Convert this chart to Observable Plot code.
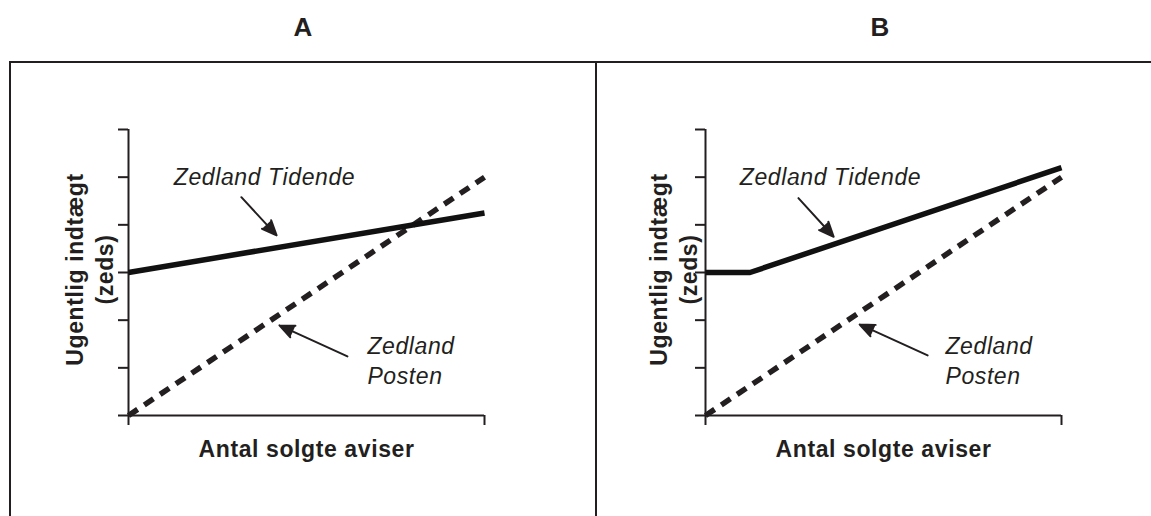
<!DOCTYPE html>
<html><head><meta charset="utf-8">
<script src="https://cdn.jsdelivr.net/npm/d3@7"></script>
<script src="https://cdn.jsdelivr.net/npm/@observablehq/plot@0.6"></script>
<style>
body{margin:0;background:#fff;font-family:"Liberation Sans",Arial,Helvetica,sans-serif;}
#wrap{position:relative;width:1151px;height:516px;overflow:hidden;background:#fff;}
.title{position:absolute;top:10px;width:100px;margin-left:-50px;text-align:center;font-weight:bold;font-size:26px;color:#231f20;line-height:34px;}
.bline{position:absolute;background:#231f20;z-index:2;}
.panel{position:absolute;top:62px;z-index:1;}
.panel svg{background:transparent;}
.panel svg text{letter-spacing:0.6px;}
</style></head><body>
<div id="wrap">
  <div class="title" id="tA" style="left:303px"></div>
  <div class="title" id="tB" style="left:880px"></div>
  <div class="bline" style="left:9px;top:61px;width:1142px;height:2px"></div>
  <div class="bline" style="left:9px;top:61px;width:2px;height:455px"></div>
  <div class="bline" style="left:595px;top:61px;width:2px;height:455px"></div>
  <div class="panel" id="pA" style="left:0px"></div>
  <div class="panel" id="pB" style="left:596px"></div>
</div>
<script>
// ---- data ----
const panelTitles = ["A", "B"];
const xDomain = [0, 10];
const yDomain = [0, 6];
const yTicks = [0, 1, 2, 3, 4, 5, 6];
const xTicks = [0, 10];
const xLabel = "Antal solgte aviser";
const yLabel = "Ugentlig indtægt\n(zeds)";
const nameTidende = "Zedland Tidende";
const namePosten = "Zedland\nPosten";

// Panel A series
const tidendeA_x = [0, 10];
const tidendeA_y = [3, 4.25];
const postenA_x = [0, 10];
const postenA_y = [0, 5];
// Panel B series
const tidendeB_x = [0, 1.25, 10];
const tidendeB_y = [3, 3, 5.2];
const postenB_x = [0, 10];
const postenB_y = [0, 5];

// annotation anchors (data units)
const labelTidendeA = [3.82, 5.0];
const labelPostenA = [6.71, 1.17];
const labelTidendeB = [3.51, 5.0];
const labelPostenB = [6.74, 1.17];
const arrowTidendeA = [3.17, 4.58, 4.16, 3.78];
const arrowPostenA = [6.15, 1.24, 4.24, 1.89];
const arrowTidendeB = [2.61, 4.56, 3.60, 3.75];
const arrowPostenB = [6.24, 1.26, 4.33, 1.91];

// ---- build ----
const ink = "#231f20";
const font = "Liberation Sans, Arial, Helvetica, sans-serif";
const toPts = (xs, ys) => xs.map((x, i) => ({x, y: ys[i]}));
const toArrow = a => ({x1: a[0], y1: a[1], x2: a[2], y2: a[3]});

function panel(cfg) {
  return Plot.plot({
    width: cfg.width, height: 454,
    marginLeft: cfg.ml, marginRight: cfg.mr, marginTop: 67, marginBottom: 101,
    x: {domain: xDomain},
    y: {domain: yDomain},
    style: {background: "transparent", color: ink, fontFamily: font},
    marks: [
      Plot.axisY({ticks: yTicks, tickSize: 10, tickFormat: () => "", label: null, strokeWidth: 2, stroke: ink}),
      Plot.axisX({ticks: xTicks, tickSize: 10, tickFormat: () => "", label: null, strokeWidth: 2, stroke: ink}),
      Plot.ruleX([0], {stroke: ink, strokeWidth: 2}),
      Plot.ruleY([0], {stroke: ink, strokeWidth: 2}),
      Plot.line(cfg.posten, {x: "x", y: "y", stroke: ink, strokeWidth: 5.5, strokeDasharray: "11,8", strokeLinecap: "butt"}),
      Plot.line(cfg.tidende, {x: "x", y: "y", stroke: "#111", strokeWidth: 5.5, strokeLinecap: "butt", strokeLinejoin: "miter"}),
      Plot.arrow(cfg.arrows, {x1: "x1", y1: "y1", x2: "x2", y2: "y2", stroke: ink, fill: ink, strokeWidth: 2, headLength: 12, headAngle: 46}),
      Plot.text([cfg.lt], {x: d => d[0], y: d => d[1], text: () => nameTidende, fontStyle: "italic", fontSize: 23, fill: ink, fontFamily: font}),
      Plot.text([cfg.lp], {x: d => d[0], y: d => d[1], text: () => namePosten, fontStyle: "italic", fontSize: 23, fill: ink, textAnchor: "start", lineHeight: 1.27, fontFamily: font}),
      Plot.text([yLabel], {text: d => d, frameAnchor: "left", textAnchor: "middle", dx: cfg.ylabDx, dy: -3, rotate: -90, fontWeight: "bold", fontSize: 23, lineHeight: 1.3, fill: ink, fontFamily: font}),
      Plot.text([xLabel], {text: d => d, frameAnchor: "bottom", textAnchor: "middle", dy: 41, fontWeight: "bold", fontSize: 23, fill: ink, fontFamily: font})
    ]
  });
}

document.getElementById("tA").textContent = panelTitles[0];
document.getElementById("tB").textContent = panelTitles[1];

document.getElementById("pA").append(panel({
  width: 596, ml: 128, mr: 112, ylabDx: -40,
  tidende: toPts(tidendeA_x, tidendeA_y),
  posten: toPts(postenA_x, postenA_y),
  arrows: [toArrow(arrowTidendeA), toArrow(arrowPostenA)],
  lt: labelTidendeA, lp: labelPostenA
}));
document.getElementById("pB").append(panel({
  width: 555, ml: 109, mr: 90, ylabDx: -33,
  tidende: toPts(tidendeB_x, tidendeB_y),
  posten: toPts(postenB_x, postenB_y),
  arrows: [toArrow(arrowTidendeB), toArrow(arrowPostenB)],
  lt: labelTidendeB, lp: labelPostenB
}));
</script>
</body></html>
